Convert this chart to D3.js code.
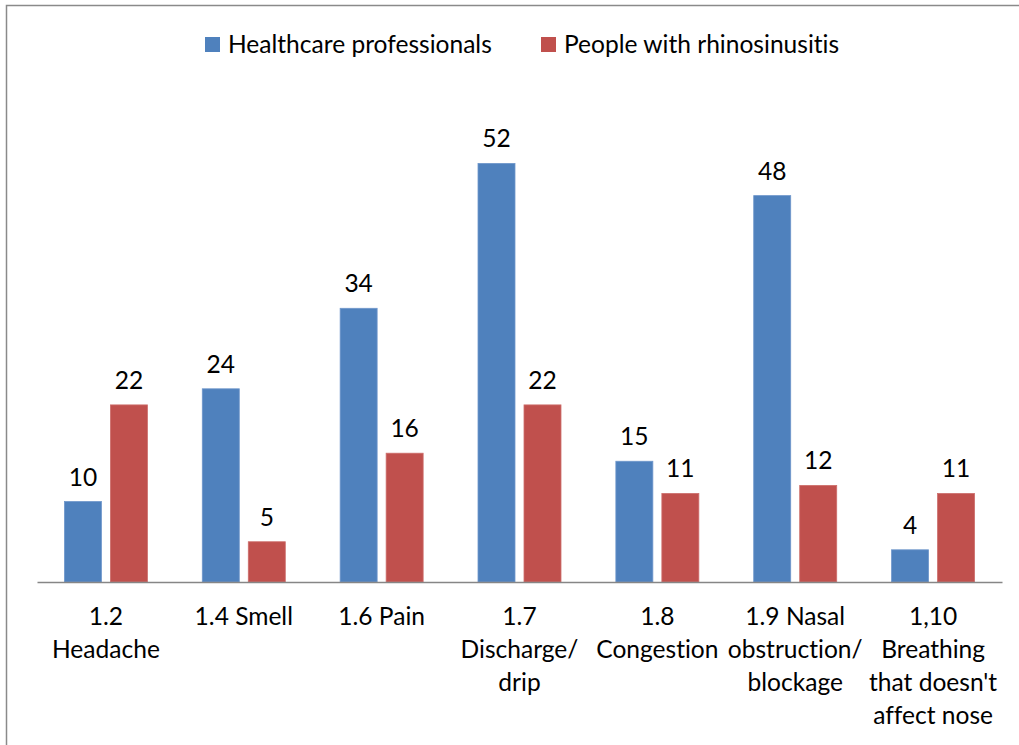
<!DOCTYPE html>
<html>
<head>
<meta charset="utf-8">
<script src="https://cdn.jsdelivr.net/npm/d3@7/dist/d3.min.js"></script>
<style>
  html, body { margin: 0; padding: 0; background: #fff; }
  svg { display: block; }
  text { font-family: Lato, "Noto Sans", sans-serif; fill: #000;
         font-variant-ligatures: none; font-feature-settings: "liga" 0, "clig" 0; }
</style>
</head>
<body>
<svg id="chart" width="1019" height="745"></svg>
<script>
// Symptom categories (each label split into its printed lines)
const categories = [
  ["1.2", "Headache"],
  ["1.4 Smell"],
  ["1.6 Pain"],
  ["1.7", "Discharge/", "drip"],
  ["1.8", "Congestion"],
  ["1.9 Nasal", "obstruction/", "blockage"],
  ["1,10", "Breathing", "that doesn't", "affect nose"]
];
const seriesNames = ["Healthcare professionals", "People with rhinosinusitis"];
const healthcareValues = [10, 24, 34, 52, 15, 48, 4];
const peopleValues = [22, 5, 16, 22, 11, 12, 11];
const seriesColors = ["#4f81bd", "#c0504d"];
const seriesEdges = ["#6f97cb", "#cd6e6b"];

const svg = d3.select("#chart");

// Outer chart frame
svg.append("rect")
  .attr("x", 6.5).attr("y", 5.5)
  .attr("width", 1040).attr("height", 780)
  .attr("fill", "none")
  .attr("stroke", "#8a8a8a")
  .attr("stroke-width", 1.5);

// Size the text so the legend entry spans its intended width
const probe = svg.append("text").style("font-size", "26px").text(seriesNames[0]);
const probeW = probe.node().getComputedTextLength();
probe.remove();
const fontSize = Math.max(18, Math.min(30, 26 * 264 / probeW));

const plot = { left: 37, right: 1002, bottom: 582 };
const catKeys = categories.map((c, i) => i);

const x0 = d3.scaleBand().domain(catKeys).range([plot.left, plot.right]).padding(0);
const bw = x0.bandwidth();
const x1 = d3.scaleBand().domain([0, 1])
  .range([bw / 2 - 41.5, bw / 2 + 41.5])
  .paddingInner(0.1957).paddingOuter(0);
const y = d3.scaleLinear().domain([0, 60]).range([plot.bottom, plot.bottom - 60 * 8.05]);

const rows = catKeys.map(i => ({ i, vals: [healthcareValues[i], peopleValues[i]] }));

const groups = svg.append("g").selectAll("g")
  .data(rows).join("g")
  .attr("transform", d => `translate(${x0(d.i)},0)`);

groups.selectAll("rect")
  .data(d => d.vals.map((v, s) => ({ v, s })))
  .join("rect")
  .attr("x", d => x1(d.s))
  .attr("y", d => y(d.v))
  .attr("width", x1.bandwidth())
  .attr("height", d => y(0) - y(d.v))
  .attr("fill", d => seriesColors[d.s])
  .attr("stroke", d => seriesEdges[d.s])
  .attr("stroke-width", 0.8);

// Value labels above bars
groups.selectAll("text.val")
  .data(d => d.vals.map((v, s) => ({ v, s })))
  .join("text")
  .attr("class", "val")
  .attr("x", d => x1(d.s) + x1.bandwidth() / 2)
  .attr("y", d => y(d.v) - 16)
  .attr("text-anchor", "middle")
  .style("font-size", fontSize + "px")
  .text(d => d.v);

// Category axis: baseline without ticks, wrapped labels below
const xAxis = svg.append("g")
  .attr("transform", `translate(0,${plot.bottom})`)
  .call(d3.axisBottom(x0).tickSize(0).tickFormat(""));
xAxis.select(".domain").attr("stroke", "#868686").attr("stroke-width", 1.5);

const labels = svg.append("g").selectAll("text")
  .data(rows).join("text")
  .attr("text-anchor", "middle")
  .style("font-size", fontSize + "px")
  .attr("transform", d => `translate(${x0(d.i) + bw / 2},0)`);
labels.selectAll("tspan")
  .data(d => categories[d.i])
  .join("tspan")
  .attr("x", 0)
  .attr("y", (t, k) => 625 + k * 33)
  .text(t => t);

// Legend
const legendX = [205, 541];
const legend = svg.append("g").selectAll("g")
  .data(seriesNames).join("g")
  .attr("transform", (d, i) => `translate(${legendX[i]},37)`);
legend.append("rect")
  .attr("width", 15).attr("height", 15)
  .attr("fill", (d, i) => seriesColors[i]);
legend.append("text")
  .attr("x", 23).attr("y", 16)
  .style("font-size", fontSize + "px")
  .text(d => d);
</script>
</body>
</html>
